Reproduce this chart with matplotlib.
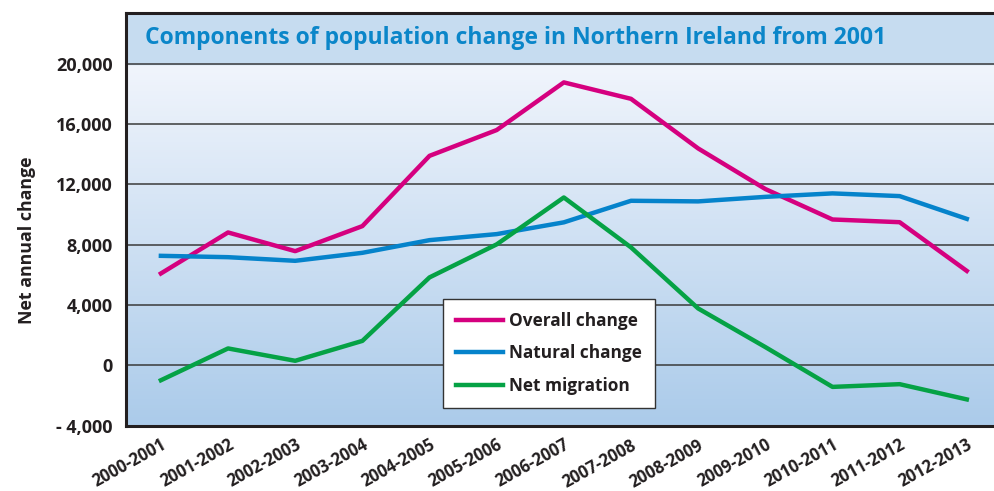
import numpy as np
import matplotlib
matplotlib.use("Agg")
import matplotlib.pyplot as plt
from matplotlib.colors import LinearSegmentedColormap
from matplotlib.transforms import ScaledTranslation

plt.rcParams['font.family'] = ['Open Sans', 'DejaVu Sans']

# data
periods = ["2000-2001", "2001-2002", "2002-2003", "2003-2004", "2004-2005",
           "2005-2006", "2006-2007", "2007-2008", "2008-2009", "2009-2010",
           "2010-2011", "2011-2012", "2012-2013"]
overall = [6080, 8800, 7560, 9220, 13880, 15590, 18750, 17660, 14370, 11680, 9660, 9480, 6250]
natural = [7250, 7160, 6920, 7450, 8290, 8690, 9470, 10900, 10860, 11160, 11390, 11210, 9700]
migration = [-1000, 1110, 290, 1610, 5820, 8010, 11120, 7810, 3760, 1200, -1440, -1260, -2270]
yticks = [-4000, 0, 4000, 8000, 12000, 16000, 20000]
ytick_labels = ["- 4,000", "0", "4,000", "8,000", "12,000", "16,000", "20,000"]

fig = plt.figure(figsize=(9.95, 4.91), dpi=100)
ax = fig.add_axes([0.1266, 0.1334, 0.8734, 0.8401])

x = np.arange(len(periods))
xmin, xmax = -0.52, 12.42
ymin, ytop, yband = -4000, 23350, 20000
ax.set_xlim(xmin, xmax)
ax.set_ylim(ymin, ytop)

# gradient background for the plotting area
cmap = LinearSegmentedColormap.from_list("bg", ["#abcbea", "#f1f5fc"])
grad = np.linspace(0, 1, 256).reshape(-1, 1)
ax.imshow(grad, extent=[xmin, xmax, ymin, yband], origin='lower', aspect='auto',
          cmap=cmap, zorder=0)
# title band
ax.axhspan(yband, ytop, color="#c6dcf0", zorder=0)
ax.text(xmin + 0.29, (yband + ytop) / 2 + 50,
        "Components of population change in Northern Ireland from 2001",
        ha='left', va='center', fontsize=16.5, fontweight='bold', color="#0b86c9")

# gridlines
for yv in yticks[1:]:
    ax.axhline(yv, color="#3a3a3a", lw=1.1, zorder=1)

ax.plot(x, overall, color="#d5007f", lw=3.2, label="Overall change", zorder=3)
ax.plot(x, natural, color="#0583cb", lw=3.2, label="Natural change", zorder=3)
ax.plot(x, migration, color="#05a245", lw=3.2, label="Net migration", zorder=3)

ax.set_yticks(yticks)
ax.set_yticklabels(ytick_labels, fontsize=13, fontweight='bold', color="#231f20")
ax.set_xticks(x)
ax.set_xticklabels(periods, rotation=29, ha='right', va='top', rotation_mode='anchor',
                   fontsize=12, fontweight='bold', color="#231f20")
shift = ScaledTranslation(7 / 100, 0, fig.dpi_scale_trans)
for lbl in ax.get_xticklabels():
    lbl.set_transform(lbl.get_transform() + shift)
ax.tick_params(axis='both', length=0)
ax.tick_params(axis='y', pad=9.5)
ax.tick_params(axis='x', pad=7.5)
ax.set_ylabel("Net annual change", fontsize=12.8, fontweight='bold', color="#231f20")
ax.yaxis.set_label_coords(-0.104, 0.45)

for side in ['top', 'left', 'bottom']:
    ax.spines[side].set_color("#231f20")
    ax.spines[side].set_linewidth(2.2)
ax.spines['right'].set_visible(False)

leg = ax.legend(loc='lower left', bbox_to_anchor=(0.365, 0.043), borderaxespad=0,
                fancybox=False, framealpha=1, edgecolor="#333333", handlelength=2.7,
                prop={'weight': 'bold', 'size': 12.4}, labelspacing=0.85,
                borderpad=0.75, handletextpad=0.4)
leg.get_frame().set_linewidth(1.0)
for t in leg.get_texts():
    t.set_color("#231f20")

fig.savefig("out.png", dpi=100)
